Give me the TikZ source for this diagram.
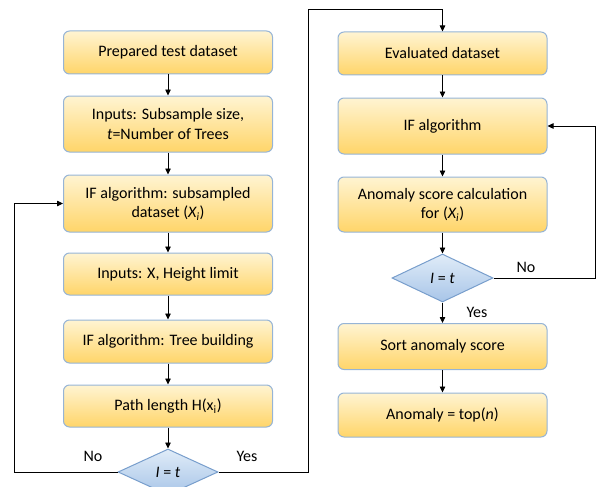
\documentclass[tikz,border=0pt]{standalone}
\usepackage{fontspec}
\setmainfont{Carlito}
\usetikzlibrary{shapes.geometric,arrows.meta}
\definecolor{box_top}{RGB}{255,244,210}
\definecolor{box_bot}{RGB}{255,213,105}
\definecolor{box_line}{RGB}{150,180,214}
\definecolor{dia_top}{RGB}{224,236,248}
\definecolor{dia_bot}{RGB}{168,197,232}
\definecolor{dia_line}{RGB}{120,158,204}
\tikzstyle{pb}=[rectangle,rounded corners=6pt,top color=box_top,bottom color=box_bot,
  draw=box_line,line width=1pt,minimum width=209pt,minimum height=43pt,
  align=center,font=\fontsize{16}{19.5}\selectfont]
\tikzstyle{db}=[diamond,top color=dia_top,bottom color=dia_bot,draw=dia_line,
  line width=1pt,inner sep=0pt,minimum width=100pt,minimum height=46pt,
  font=\fontsize{16}{19.5}\selectfont]
\tikzstyle{ar}=[-{Triangle[length=6pt,width=5.5pt]},line width=0.8pt]
\tikzstyle{none}=[font=\fontsize{16}{19.5}\selectfont]

\begin{document}
\begin{tikzpicture}[x=1pt,y=-1pt]
    \useasboundingbox (0,0) rectangle (597,487);
    % first pass: building the trees
    \node [style=pb] (0) at (168, 52.5) {Prepared test dataset};
    \node [style=pb, minimum height=56pt] (1) at (168, 124) {Inputs: Subsample size,\\\textit{t}=Number of Trees};
    \node [style=pb, minimum height=57pt] (2) at (168, 203.5) {IF algorithm: subsampled\\dataset (\textit{X\textsubscript{i}})};
    \node [style=pb, minimum height=42pt] (3) at (168, 274) {Inputs: X, Height limit};
    \node [style=pb] (4) at (168, 341.5) {IF algorithm: Tree building};
    \node [style=pb, minimum height=42pt] (5) at (168, 406) {Path length H(x\textsubscript{i})};
    \node [style=db] (6) at (168, 472) {\textit{I} = \textit{t}};
    % second pass: scoring
    \node [style=pb] (7) at (442.5, 53.5) {Evaluated dataset};
    \node [style=pb, minimum height=56pt] (8) at (442.5, 126) {IF algorithm};
    \node [style=pb, minimum height=55pt] (9) at (442.5, 204.5) {Anomaly score calculation\\for (\textit{X\textsubscript{i}})};
    \node [style=db, minimum width=101pt, minimum height=48pt] (10) at (442.5, 278) {\textit{I} = \textit{t}};
    \node [style=pb, minimum height=46pt] (11) at (442.5, 346.5) {Sort anomaly score};
    \node [style=pb, minimum height=44pt] (12) at (442.5, 415) {Anomaly = top(\textit{n})};
    \coordinate (c0) at (14, 472);
    \coordinate (c1) at (308, 9);
    \coordinate (c2) at (595, 126);
    \node [style=none] (no1) at (93, 456) {No};
    \node [style=none] (yes1) at (247, 456) {Yes};
    \node [style=none] (no2) at (526, 267) {No};
    \node [style=none] (yes2) at (477, 312) {Yes};
    \draw [style=ar] (0) to (1);
    \draw [style=ar] (1) to (2);
    \draw [style=ar] (2) to (3);
    \draw [style=ar] (3) to (4);
    \draw [style=ar] (4) to (5);
    \draw [style=ar] (5) to (6);
    \draw [style=ar] (6.west) -- (c0) |- (2.west);
    \draw [style=ar] (6.east) -| (c1) -| (7.north);
    \draw [style=ar] (7) to (8);
    \draw [style=ar] (8) to (9);
    \draw [style=ar] (9) to (10);
    \draw [style=ar] (10) to (11);
    \draw [style=ar] (11) to (12);
    \draw [style=ar] (10.east) -| (c2) -- (8.east);
\end{tikzpicture}
\end{document}
